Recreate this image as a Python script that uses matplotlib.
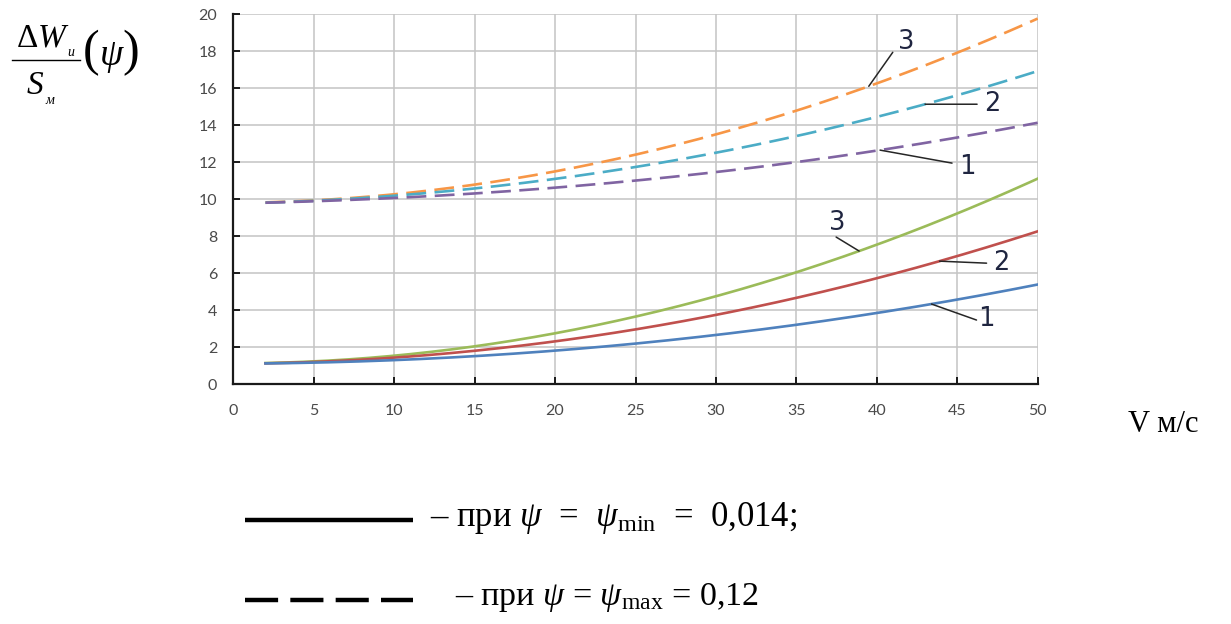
import numpy as np
import matplotlib
matplotlib.use("Agg")
import matplotlib.pyplot as plt
from matplotlib.lines import Line2D

plt.rcParams["mathtext.fontset"] = "custom"
plt.rcParams["mathtext.rm"] = "Liberation Serif"
plt.rcParams["mathtext.it"] = "Liberation Serif:italic"
plt.rcParams["mathtext.bf"] = "Liberation Serif:bold"

# Speed, m/s
V = [2, 5, 10, 15, 20, 25, 30, 35, 40, 45, 50]

# psi = psi_min = 0.014 (solid)
w_min_1 = [1.12, 1.16, 1.36, 1.51, 1.78, 2.20, 2.69, 3.21, 3.86, 4.58, 5.39]
w_min_2 = [1.13, 1.20, 1.47, 1.78, 2.36, 2.92, 3.77, 4.67, 5.75, 6.92, 8.27]
w_min_3 = [1.15, 1.24, 1.55, 2.05, 2.74, 3.68, 4.76, 6.05, 7.55, 9.23, 11.12]

# psi = psi_max = 0.12 (dashed)
w_max_1 = [9.85, 9.86, 10.05, 10.29, 10.70, 10.97, 11.51, 12.02, 12.60, 13.32, 14.16]
w_max_2 = [9.85, 9.88, 10.18, 10.60, 11.12, 11.70, 12.54, 13.50, 14.40, 15.57, 16.97]
w_max_3 = [9.85, 9.90, 10.29, 10.83, 11.48, 12.42, 13.50, 14.76, 16.29, 17.95, 19.75]

x_ticks = list(range(0, 51, 5))
y_ticks = list(range(0, 21, 2))

W, H = 1231, 624
fig = plt.figure(figsize=(W / 100, H / 100), dpi=100)
fig.patch.set_facecolor("white")


def fx(px):
    return px / W


def fy(py):
    return 1 - py / H


ax = fig.add_axes([fx(233.3), fy(384.3), fx(1037.7) - fx(233.3), fy(14.3) - fy(384.3)])

smooth_v = np.linspace(V[0], V[-1], 300)


def fit(vals):
    return np.polyfit(V, vals, 3)


lw = 1.9
dash = (0, (7.5, 3.2))
ax.plot(smooth_v, np.polyval(fit(w_max_3), smooth_v), color="#F79646", lw=lw, linestyle=dash, zorder=3)
ax.plot(smooth_v, np.polyval(fit(w_max_2), smooth_v), color="#4BACC6", lw=lw, linestyle=dash, zorder=3)
ax.plot(smooth_v, np.polyval(fit(w_max_1), smooth_v), color="#8064A2", lw=lw, linestyle=dash, zorder=3)
ax.plot(smooth_v, np.polyval(fit(w_min_3), smooth_v), color="#9BBB59", lw=lw, zorder=3)
ax.plot(smooth_v, np.polyval(fit(w_min_2), smooth_v), color="#C0504D", lw=lw, zorder=3)
ax.plot(smooth_v, np.polyval(fit(w_min_1), smooth_v), color="#4F81BD", lw=lw, zorder=3)

ax.set_xlim(0, 50)
ax.set_ylim(0, 20)
ax.set_xticks(x_ticks)
ax.set_yticks(y_ticks)
ax.grid(True, color="#c4c4c4", lw=1.1)
ax.set_axisbelow(True)
for side in ("top", "right"):
    ax.spines[side].set_visible(False)
for side in ("left", "bottom"):
    ax.spines[side].set_linewidth(1.6)
    ax.spines[side].set_color("#1a1a1a")
ax.tick_params(direction="in", length=5, width=1.4, color="#1a1a1a",
               labelsize=11.5, labelcolor="#4a4a4a")
ax.tick_params(axis="y", pad=11.5)
ax.tick_params(axis="x", pad=14)
for lab in ax.get_xticklabels() + ax.get_yticklabels():
    lab.set_fontfamily("Lato")


# curve number callouts
def callout(series, v, line_off, text_off, label):
    y = float(np.polyval(fit(series), v))
    ax.annotate("", xy=(v, y), xytext=line_off, textcoords="offset pixels",
                arrowprops=dict(arrowstyle="-", color="#262626", lw=1.1,
                                shrinkA=0, shrinkB=0), zorder=4)
    ax.annotate(label, xy=(v, y), xytext=text_off, textcoords="offset pixels",
                ha="center", va="center", fontsize=18.5, color="#1f2540",
                family=["Liberation Sans Narrow", "DejaVu Sans"],
                annotation_clip=False, zorder=4)


callout(w_max_3, 39.5, (24, 34), (37, 44), "3")
callout(w_max_2, 43.0, (52, 0), (67, 0), "2")
callout(w_max_1, 40.2, (72, -13), (87, -17), "1")
callout(w_min_3, 38.9, (-23, 14), (-22, 28), "3")
callout(w_min_2, 43.9, (47, -2), (62, -2), "2")
callout(w_min_1, 43.4, (45, -16), (55, -15), "1")

serif = "Liberation Serif"

# y-axis quantity: ΔW_и / S_м (ψ)
fig.text(fx(43), fy(37), r"$\Delta W$", fontsize=24,
         ha="center", va="center")
fig.text(fx(71), fy(52), "и", fontsize=10, family=serif, style="italic",
         ha="center", va="center")
fig.add_artist(Line2D([fx(12), fx(80)], [fy(60), fy(60)], color="black", lw=1.0))
fig.text(fx(35), fy(86), "S", fontsize=24, family=serif, style="italic",
         ha="center", va="center")
fig.text(fx(50), fy(100), "м", fontsize=10, family=serif, style="italic",
         ha="center", va="center")
fig.text(fx(91), fy(53), "(", fontsize=36, family=serif,
         ha="center", va="center")
fig.text(fx(111), fy(56), "ψ", fontsize=27, family=serif, style="italic",
         ha="center", va="center")
fig.text(fx(131), fy(53), ")", fontsize=36, family=serif,
         ha="center", va="center")

# x-axis quantity
fig.text(fx(1163), fy(425), "V м/с", fontsize=22, family=serif,
         ha="center", va="center")

# line style key
fig.add_artist(Line2D([fx(245), fx(413)], [fy(520), fy(520)], color="black", lw=3.2,
                      solid_capstyle="butt"))
fig.add_artist(Line2D([fx(245), fx(413)], [fy(600), fy(600)], color="black", lw=3.2,
                      linestyle=(0, (7.45, 2.75)), dash_capstyle="butt"))

fig.text(fx(430), fy(518),
         r"– при $\psi$  =  $\psi_{\mathrm{min}}$  =  0,014;",
         fontsize=25, family=serif, ha="left", va="center")
fig.text(fx(455), fy(598),
         r"– при $\psi$ = $\psi_{\mathrm{max}}$ = 0,12",
         fontsize=24.5, family=serif, ha="left", va="center")

fig.savefig("out.png", dpi=100)
